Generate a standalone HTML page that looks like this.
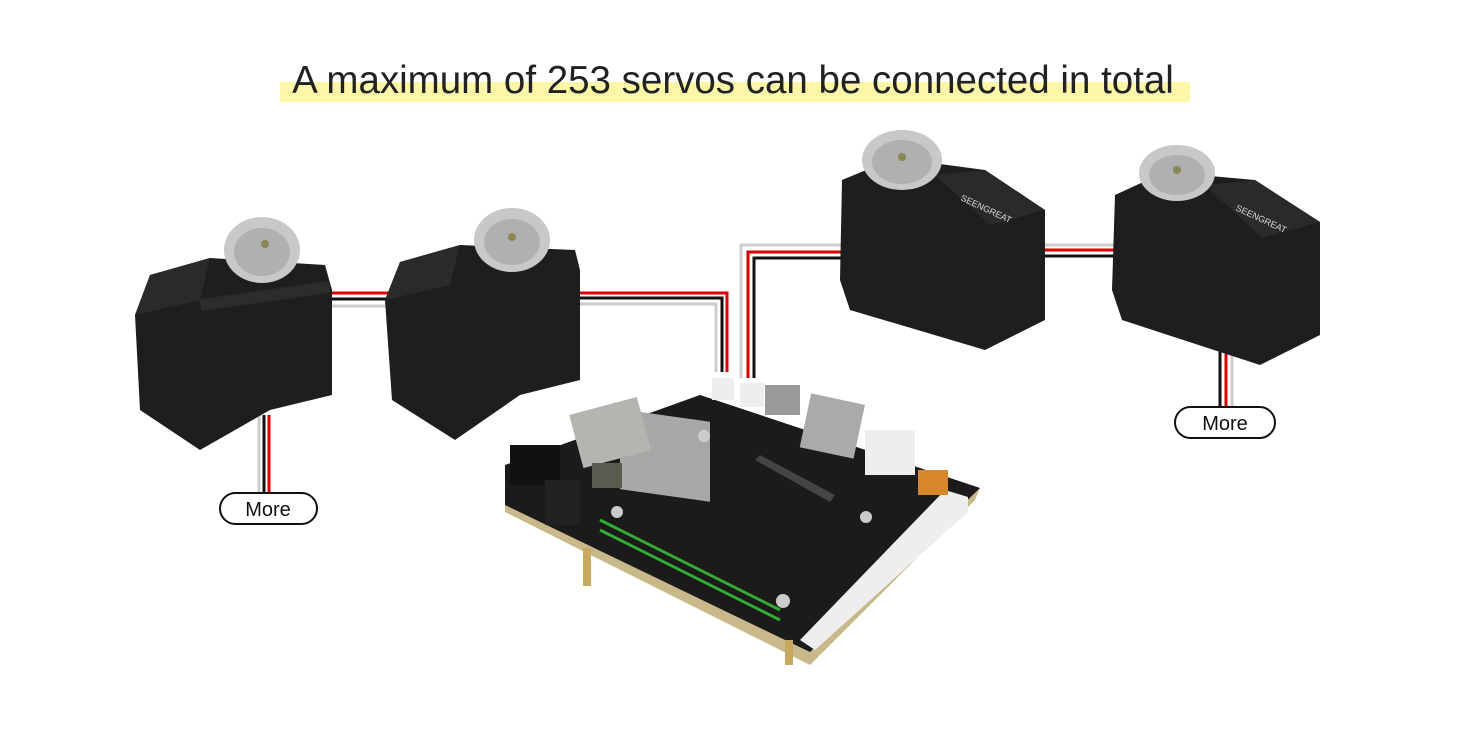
<!DOCTYPE html>
<html><head><style>
html,body{margin:0;padding:0;background:#fff;}
body{width:1464px;height:726px;overflow:hidden;position:relative;font-family:"Liberation Sans",sans-serif;}
</style></head><body>
<svg width="1464" height="726" viewBox="0 0 1464 726" xmlns="http://www.w3.org/2000/svg">
<rect x="280" y="82" width="910" height="20" fill="#fbf6a8"/>
<text x="733" y="93" text-anchor="middle" font-family="Liberation Sans, sans-serif" font-size="38.5" fill="#222">A maximum of 253 servos can be connected in total</text>

<g fill="none" stroke-width="3">
<path d="M330 293 H400" stroke="#d00"/><path d="M330 299 H400" stroke="#111"/><path d="M330 306 H400" stroke="#ccc"/>
<path d="M575 293 H727 V372" stroke="#d00"/><path d="M575 298 H722 V372" stroke="#111"/><path d="M575 304 H716 V372" stroke="#ccc"/>
<path d="M845 245 H741 V378" stroke="#ccc"/><path d="M845 252 H748 V378" stroke="#d00"/><path d="M845 258 H754 V378" stroke="#111"/>
<path d="M1045 245 H1115" stroke="#ccc"/><path d="M1045 250 H1115" stroke="#d00"/><path d="M1045 256 H1115" stroke="#111"/>
<path d="M259 415 V495" stroke="#ccc"/><path d="M264 415 V495" stroke="#111"/><path d="M269 415 V495" stroke="#d00"/>
<path d="M1220 350 V408" stroke="#111"/><path d="M1226 350 V408" stroke="#d00"/><path d="M1232 350 V408" stroke="#ccc"/>
</g>

<g>
<polygon points="135,315 150,275 210,258 325,265 332,290 332,395 270,410 200,450 140,410" fill="#1e1e1e"/>
<polygon points="135,315 200,300 210,258 150,275" fill="#2a2a2a"/>
<rect x="200" y="290" width="130" height="12" fill="#2c2c2c" transform="rotate(-8 265 296)"/>
<ellipse cx="262" cy="250" rx="38" ry="33" fill="#c8c8c8"/><ellipse cx="262" cy="252" rx="28" ry="24" fill="#b0b0b0"/><circle cx="265" cy="244" r="4" fill="#885"/>

<polygon points="385,300 400,262 460,245 575,250 580,270 580,380 520,395 455,440 392,400" fill="#1e1e1e"/>
<polygon points="385,300 450,285 460,245 400,262" fill="#2a2a2a"/>
<ellipse cx="512" cy="240" rx="38" ry="32" fill="#c8c8c8"/><ellipse cx="512" cy="242" rx="28" ry="23" fill="#b0b0b0"/><circle cx="512" cy="237" r="4" fill="#885"/>

<polygon points="842,180 895,158 985,170 1045,210 1045,320 985,350 850,310 840,280" fill="#1e1e1e"/>
<polygon points="935,175 985,170 1045,210 990,225" fill="#2a2a2a"/>
<ellipse cx="902" cy="160" rx="40" ry="30" fill="#c8c8c8"/><ellipse cx="902" cy="162" rx="30" ry="22" fill="#b0b0b0"/><circle cx="902" cy="157" r="4" fill="#885"/>
<text x="960" y="200" font-size="9" fill="#ddd" transform="rotate(25 960 200)">SEENGREAT</text>

<polygon points="1115,195 1165,172 1255,180 1320,222 1320,335 1260,365 1122,320 1112,290" fill="#1e1e1e"/>
<polygon points="1205,185 1255,180 1320,222 1262,238" fill="#2a2a2a"/>
<ellipse cx="1177" cy="173" rx="38" ry="28" fill="#c8c8c8"/><ellipse cx="1177" cy="175" rx="28" ry="20" fill="#b0b0b0"/><circle cx="1177" cy="170" r="4" fill="#885"/>
<text x="1235" y="210" font-size="9" fill="#ddd" transform="rotate(25 1235 210)">SEENGREAT</text>
</g>

<polygon points="505,465 700,395 980,488 975,500 810,665 505,512" fill="#c9b98a"/>
<polygon points="505,465 700,395 980,488 810,652 505,505" fill="#1b1b1b"/>
<rect x="620" y="322" width="90" height="80" fill="#a8a8a8" transform="skewY(8)"/>
<rect x="575" y="405" width="70" height="55" fill="#b5b5b0" transform="rotate(-15 610 432)"/>
<rect x="510" y="445" width="50" height="40" fill="#111"/>
<rect x="545" y="480" width="35" height="45" fill="#222"/>
<rect x="592" y="463" width="30" height="25" fill="#5a5a50"/>
<rect x="712" y="378" width="22" height="22" fill="#eee"/><rect x="740" y="383" width="24" height="24" fill="#eee"/>
<rect x="765" y="385" width="35" height="30" fill="#999"/>
<rect x="805" y="398" width="55" height="55" fill="#aaa" transform="rotate(12 830 425)"/>
<rect x="865" y="430" width="50" height="45" fill="#eee"/>
<polygon points="945,490 968,497 968,512 815,650 800,640" fill="#eee"/>
<rect x="918" y="470" width="30" height="25" fill="#d8882a"/>
<polygon points="755,460 760,455 835,495 830,502" fill="#444"/>
<g stroke="#3a3" stroke-width="3">
<line x1="600" y1="520" x2="780" y2="610"/><line x1="600" y1="530" x2="780" y2="620"/>
</g>
<circle cx="704" cy="436" r="6" fill="#ccc"/><circle cx="866" cy="517" r="6" fill="#ccc"/><circle cx="783" cy="601" r="7" fill="#ccc"/><circle cx="617" cy="512" r="6" fill="#ccc"/>
<rect x="583" y="548" width="8" height="38" fill="#c9a860"/><rect x="785" y="640" width="8" height="25" fill="#c9a860"/>

<rect x="220" y="493" width="97" height="31" rx="15.5" fill="#fff" stroke="#111" stroke-width="2"/>
<text x="268" y="516" text-anchor="middle" font-size="20" fill="#111">More</text>
<rect x="1175" y="407" width="100" height="31" rx="15.5" fill="#fff" stroke="#111" stroke-width="2"/>
<text x="1225" y="430" text-anchor="middle" font-size="20" fill="#111">More</text>
</svg>
</body></html>
